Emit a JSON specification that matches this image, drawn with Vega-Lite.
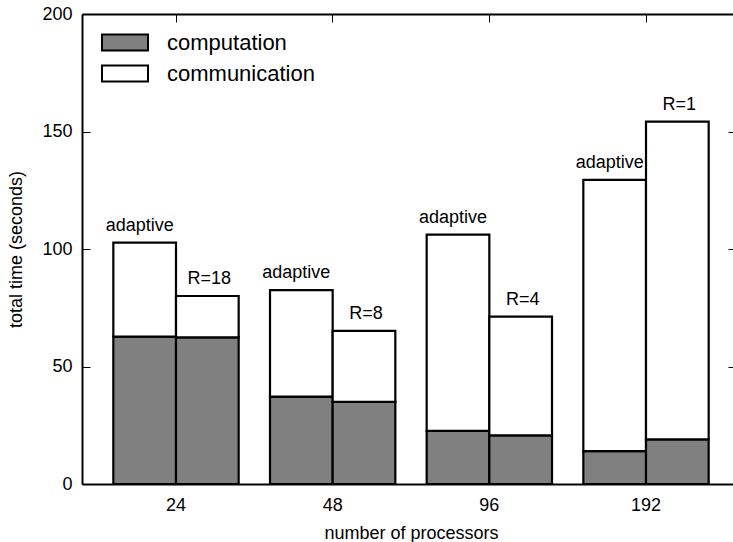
{
  "$schema": "https://vega.github.io/schema/vega-lite/v6.json",
  "width": 651,
  "height": 470,
  "autosize": {"type": "none"},
  "padding": {"left": 82, "top": 14, "right": 0, "bottom": 58},
  "background": "white",
  "config": {
    "view": {"stroke": null},
    "font": "Liberation Sans",
    "axis": {
      "domainColor": "black",
      "domainWidth": 2,
      "tickColor": "black",
      "tickWidth": 1,
      "tickSize": -8,
      "labelColor": "black",
      "labelFont": "Liberation Sans",
      "labelFontSize": 18,
      "titleColor": "black",
      "titleFont": "Liberation Sans",
      "titleFontSize": 18,
      "titleFontWeight": "normal",
      "grid": false
    },
    "legend": {
      "labelFont": "Liberation Sans",
      "labelFontSize": 22,
      "labelColor": "black"
    }
  },
  "data": {
    "values": [
      {"procs": "24", "method": "adaptive", "label": "adaptive", "part": "computation", "value": 62.7},
      {"procs": "24", "method": "adaptive", "label": "adaptive", "part": "communication", "value": 40.0},
      {"procs": "24", "method": "fixed", "label": "R=18", "part": "computation", "value": 62.4},
      {"procs": "24", "method": "fixed", "label": "R=18", "part": "communication", "value": 17.6},
      {"procs": "48", "method": "adaptive", "label": "adaptive", "part": "computation", "value": 37.2},
      {"procs": "48", "method": "adaptive", "label": "adaptive", "part": "communication", "value": 45.3},
      {"procs": "48", "method": "fixed", "label": "R=8", "part": "computation", "value": 35.0},
      {"procs": "48", "method": "fixed", "label": "R=8", "part": "communication", "value": 30.2},
      {"procs": "96", "method": "adaptive", "label": "adaptive", "part": "computation", "value": 22.6},
      {"procs": "96", "method": "adaptive", "label": "adaptive", "part": "communication", "value": 83.5},
      {"procs": "96", "method": "fixed", "label": "R=4", "part": "computation", "value": 20.7},
      {"procs": "96", "method": "fixed", "label": "R=4", "part": "communication", "value": 50.5},
      {"procs": "192", "method": "adaptive", "label": "adaptive", "part": "computation", "value": 14.0},
      {"procs": "192", "method": "adaptive", "label": "adaptive", "part": "communication", "value": 115.4},
      {"procs": "192", "method": "fixed", "label": "R=1", "part": "computation", "value": 19.0},
      {"procs": "192", "method": "fixed", "label": "R=1", "part": "communication", "value": 135.2}
    ]
  },
  "resolve": {"axis": {"x": "independent", "y": "independent"}},
  "layer": [
    {
      "mark": {"type": "bar", "stroke": "black", "strokeWidth": 2.2, "strokeJoin": "miter"},
      "encoding": {
        "x": {
          "field": "procs", "type": "nominal",
          "sort": ["24", "48", "96", "192"],
          "scale": {"domain": ["24", "48", "96", "192"], "range": [0, 658], "paddingInner": 0.2, "paddingOuter": 0.2},
          "axis": {"orient": "bottom", "title": "number of processors", "labelAngle": 0, "labelPadding": 20, "titlePadding": 10}
        },
        "xOffset": {
          "field": "method", "type": "nominal",
          "scale": {"domain": ["adaptive", "fixed"], "paddingInner": 0, "paddingOuter": 0}
        },
        "y": {
          "field": "value", "type": "quantitative", "stack": "zero",
          "scale": {"domain": [0, 200], "nice": false, "zero": true},
          "axis": {"orient": "left", "title": "total time (seconds)", "values": [0, 50, 100, 150, 200], "labelPadding": 18, "titlePadding": 16}
        },
        "color": {
          "field": "part", "type": "nominal",
          "scale": {"domain": ["computation", "communication"], "range": ["#808080", "#ffffff"]},
          "legend": {
            "title": null,
            "orient": "none",
            "legendX": 30.5,
            "legendY": 16,
            "padding": 0,
            "symbolType": "M-2,-0.696H2V0.696H-2Z",
            "symbolSize": 529,
            "symbolStrokeColor": "black",
            "symbolStrokeWidth": 2,
            "labelOffset": 29.5,
            "rowPadding": 6
          }
        },
        "order": {"field": "part", "sort": "descending"}
      }
    },
    {
      "transform": [
        {"aggregate": [{"op": "sum", "field": "value", "as": "total"}], "groupby": ["procs", "method", "label"]},
        {"filter": "datum.method === 'adaptive'"}
      ],
      "mark": {"type": "text", "fontSize": 18, "font": "Liberation Sans", "color": "black", "baseline": "alphabetic", "dy": -12, "dx": -5},
      "encoding": {
        "x": {"field": "procs", "type": "nominal", "sort": ["24", "48", "96", "192"], "axis": null},
        "xOffset": {"field": "method", "type": "nominal"},
        "y": {"field": "total", "type": "quantitative", "axis": null},
        "text": {"field": "label"}
      }
    },
    {
      "transform": [
        {"aggregate": [{"op": "sum", "field": "value", "as": "total"}], "groupby": ["procs", "method", "label"]},
        {"filter": "datum.method === 'fixed'"}
      ],
      "mark": {"type": "text", "fontSize": 18, "font": "Liberation Sans", "color": "black", "baseline": "alphabetic", "dy": -12, "dx": 2},
      "encoding": {
        "x": {"field": "procs", "type": "nominal", "sort": ["24", "48", "96", "192"], "axis": null},
        "xOffset": {"field": "method", "type": "nominal"},
        "y": {"field": "total", "type": "quantitative", "axis": null},
        "text": {"field": "label"}
      }
    },
    {
      "mark": {"type": "tick", "opacity": 0},
      "encoding": {
        "x": {"field": "procs", "type": "nominal", "sort": ["24", "48", "96", "192"],
          "axis": {"orient": "top", "labels": false, "title": null, "domain": true}},
        "y": {"field": "value", "type": "quantitative",
          "axis": {"orient": "right", "labels": false, "title": null, "domain": false, "values": [0, 50, 100, 150, 200], "tickSize": -5}}
      }
    }
  ]
}
